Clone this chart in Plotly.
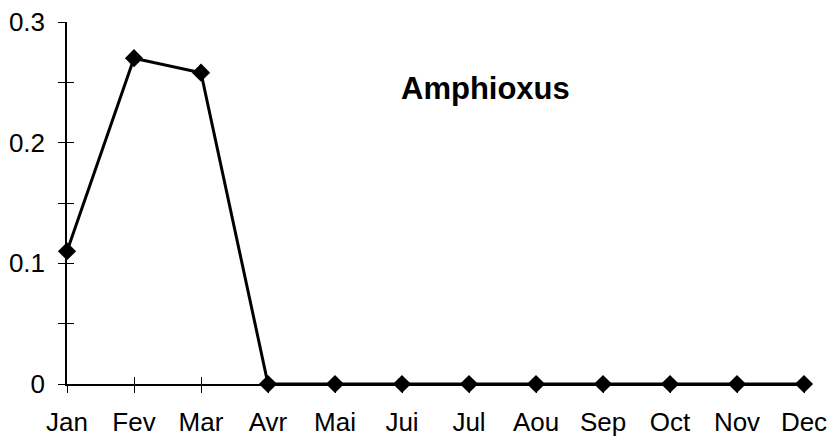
import plotly.graph_objects as go

months = ["Jan", "Fev", "Mar", "Avr", "Mai", "Jui", "Jul", "Aou", "Sep", "Oct", "Nov", "Dec"]
amphioxus = [0.11, 0.27, 0.258, 0, 0, 0, 0, 0, 0, 0, 0, 0]
y_ticks = [0, 0.1, 0.2, 0.3]
y_tick_text = ["0", "0.1", "0.2", "0.3"]

font = dict(family="Liberation Sans, Arial, sans-serif", size=26, color="black")

fig = go.Figure()
fig.add_trace(go.Scatter(
    x=list(range(len(months))), y=amphioxus,
    mode="lines+markers",
    line=dict(color="black", width=3),
    marker=dict(symbol="diamond", size=14, color="black"),
    cliponaxis=False, showlegend=False,
))
# invisible trace that carries the inner half of the crossing tick marks
fig.add_trace(go.Scatter(
    x=[0], y=[0], xaxis="x2", yaxis="y2", mode="markers",
    marker=dict(opacity=0), showlegend=False, hoverinfo="skip",
))

xr = [0, len(months) - 1]
yr = [0, 0.3]
fig.update_layout(
    width=832, height=442,
    margin=dict(l=67, r=28, t=22, b=58),
    plot_bgcolor="white", paper_bgcolor="white",
    font=font,
    xaxis=dict(
        range=xr, tickmode="array", tickvals=list(range(len(months))), ticktext=months,
        showgrid=False, zeroline=False, showline=True, linecolor="black", linewidth=1.5,
        ticks="outside", ticklen=7, tickwidth=1.2, tickcolor="black", tickfont=font,
        ticklabelstandoff=7, automargin=False,
    ),
    yaxis=dict(
        range=yr, tickmode="array", tickvals=y_ticks, ticktext=y_tick_text,
        showgrid=False, zeroline=False, showline=True, linecolor="black", linewidth=1.5,
        ticks="outside", ticklen=7, tickwidth=1.2, tickcolor="black", tickfont=font,
        ticklabelstandoff=8, automargin=False,
        minor=dict(ticks="outside", dtick=0.05, tick0=0, ticklen=7, tickwidth=1.2, tickcolor="black"),
    ),
    xaxis2=dict(
        range=xr, overlaying="x", anchor="y2", side="bottom",
        tickmode="array", tickvals=list(range(len(months))), showticklabels=False,
        showgrid=False, zeroline=False, showline=False, automargin=False,
        ticks="inside", ticklen=7, tickwidth=1.2, tickcolor="black",
    ),
    yaxis2=dict(
        range=yr, overlaying="y", anchor="x2", side="left",
        tickmode="array", tickvals=y_ticks, showticklabels=False,
        showgrid=False, zeroline=False, showline=False, automargin=False,
        ticks="inside", ticklen=7, tickwidth=1.2, tickcolor="black",
        minor=dict(ticks="inside", dtick=0.05, tick0=0, ticklen=7, tickwidth=1.2, tickcolor="black"),
    ),
    annotations=[dict(
        text="<b>Amphioxus</b>", x=6.25, y=0.245, xref="x", yref="y",
        showarrow=False, font=dict(family="Liberation Sans, Arial, sans-serif", size=31, color="black"),
    )],
)

fig.write_html("out.html")
